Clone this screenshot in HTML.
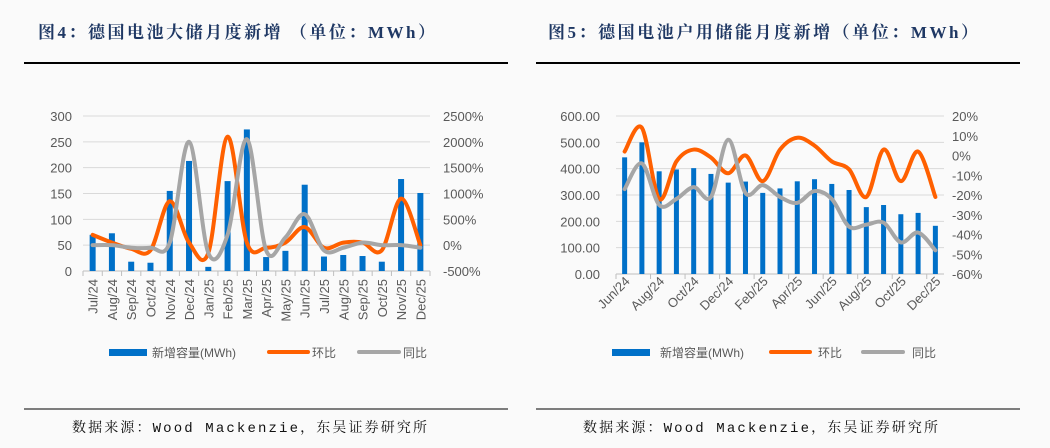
<!DOCTYPE html>
<html><head><meta charset="utf-8">
<style>
body{margin:0;background:#fafafa;width:1050px;height:448px;overflow:hidden;font-family:"Liberation Sans","Noto Sans CJK SC",sans-serif}
svg{position:absolute;left:0;top:0}
</style></head>
<body>
<svg id="s" width="1050" height="448">
<g font-family="'Liberation Serif','Noto Serif CJK SC',serif" font-weight="bold" fill="#1f3864" font-size="17">
<text x="38" y="38" textLength="397" lengthAdjust="spacing">图4：德国电池大储月度新增 （单位：MWh）</text>
<text x="548" y="38" textLength="430" lengthAdjust="spacing">图5：德国电池户用储能月度新增（单位：MWh）</text>
</g>
<line x1="24" y1="63" x2="508" y2="63" stroke="#000" stroke-width="2"/>
<line x1="536" y1="63" x2="1020" y2="63" stroke="#000" stroke-width="2"/>
<line x1="24" y1="409" x2="508" y2="409" stroke="#000" stroke-width="1"/>
<line x1="536" y1="409" x2="1020" y2="409" stroke="#000" stroke-width="1"/>
<g font-family="'Liberation Mono','Noto Serif CJK SC',serif" font-size="14" fill="#111">
<text x="72" y="432" textLength="355" lengthAdjust="spacing">数据来源：Wood Mackenzie，东吴证券研究所</text>
<text x="583" y="432" textLength="355" lengthAdjust="spacing">数据来源：Wood Mackenzie，东吴证券研究所</text>
</g>
<g font-size="12" fill="#595959">
<rect x="109" y="349" width="38" height="7" fill="#0070c8"/>
<text x="152" y="357">新增容量(MWh)</text>
<line x1="269" y1="352" x2="308" y2="352" stroke="#ff6000" stroke-width="4" stroke-linecap="round"/>
<text x="312" y="357">环比</text>
<line x1="359" y1="352" x2="399" y2="352" stroke="#a6a6a6" stroke-width="4" stroke-linecap="round"/>
<text x="403" y="357">同比</text>
</g>
<g font-size="12" fill="#595959">
<rect x="612" y="349" width="38" height="7" fill="#0070c8"/>
<text x="660" y="357">新增容量(MWh)</text>
<line x1="771" y1="352" x2="810" y2="352" stroke="#ff6000" stroke-width="4" stroke-linecap="round"/>
<text x="818" y="357">环比</text>
<line x1="863" y1="352" x2="903" y2="352" stroke="#a6a6a6" stroke-width="4" stroke-linecap="round"/>
<text x="912" y="357">同比</text>
</g>
</svg>
<script>
// Chart 4 data
const c4Cats=["Jul/24","Aug/24","Sep/24","Oct/24","Nov/24","Dec/24","Jan/25","Feb/25","Mar/25","Apr/25","May/25","Jun/25","Jul/25","Aug/25","Sep/25","Oct/25","Nov/25","Dec/25"];
const c4Bars=[70,73,18,16,155,213,8,174,274,27,39,167,28,31,29,18,178,151];
const c4Mom=[200,50,-70,-100,850,50,-150,2100,50,-50,50,350,-50,50,50,-100,900,0];
const c4Yoy=[0,0,-50,-50,50,2000,-150,200,2050,-100,150,600,-100,-50,50,0,0,-50];
const c4LeftTicks=[0,50,100,150,200,250,300];
const c4RightTicks=["-500%","0%","500%","1000%","1500%","2000%","2500%"];
const c4RightVals=[-500,0,500,1000,1500,2000,2500];
// Chart 5 data
const c5Cats=["Jun/24","Jul/24","Aug/24","Sep/24","Oct/24","Nov/24","Dec/24","Jan/25","Feb/25","Mar/25","Apr/25","May/25","Jun/25","Jul/25","Aug/25","Sep/25","Oct/25","Nov/25","Dec/25"];
const c5Bars=[443,500,390,397,402,380,347,351,308,325,352,360,342,319,254,262,227,232,183];
const c5Mom=[2,14,-22,-3,3,-1,-9,0,-13,3,9,5,-3,-7,-21,3,-13,2,-21];
const c5Yoy=[-17,-4,-25,-22,-16,-21,8,-19,-15,-21,-24,-18,-22,-36,-35,-34,-44,-39,-48];
const c5LeftTicks=["0.00","100.00","200.00","300.00","400.00","500.00","600.00"];
const c5LeftVals=[0,100,200,300,400,500,600];
const c5RightTicks=["-60%","-50%","-40%","-30%","-20%","-10%","0%","10%","20%"];
const c5RightVals=[-60,-50,-40,-30,-20,-10,0,10,20];

const NS="http://www.w3.org/2000/svg";
const svg=document.getElementById('s');
function mk(tag,attrs,parent){const e=document.createElementNS(NS,tag);for(const k in attrs)e.setAttribute(k,attrs[k]);(parent||svg).appendChild(e);return e;}
function smooth(pts){let d="M"+pts[0][0]+","+pts[0][1];for(let i=0;i<pts.length-1;i++){const p0=pts[i-1]||pts[i],p1=pts[i],p2=pts[i+1],p3=pts[i+2]||p2;const t=6;d+=" C"+(p1[0]+(p2[0]-p0[0])/t)+","+(p1[1]+(p2[1]-p0[1])/t)+" "+(p2[0]-(p3[0]-p1[0])/t)+","+(p2[1]-(p3[1]-p1[1])/t)+" "+p2[0]+","+p2[1];}return d;}

function chart(o){
  const g=mk('g',{});
  
  
  const yL=v=>o.bottom-(v-o.lmin)/(o.lmax-o.lmin)*(o.bottom-o.top);
  const yR=v=>o.bottom-(v-o.rmin)/(o.rmax-o.rmin)*(o.bottom-o.top);
  const n=o.cats.length,bw=(o.right-o.left)/n;
  const xC=i=>o.left+bw*(i+0.5);
  o.lvals.forEach((v,i)=>{
    if(i>0){const l=mk('line',{x1:o.left,x2:o.right,y1:yL(v),y2:yL(v),stroke:'#d9d9d9','stroke-width':1},g);
    
    }
    const t=mk('text',{x:o.left-o.lpad,y:yL(v)+5,'text-anchor':'end','font-size':13,fill:'#595959'},g);t.textContent=o.llabels[i];
    
    
  });
  o.rvals.forEach((v,i)=>{
    const t=mk('text',{x:o.right+o.rpad,y:yR(v)+5,'text-anchor':'start','font-size':13,fill:'#595959'},g);t.textContent=o.rlabels[i];
    
    
  });
  const ax=mk('line',{x1:o.left,x2:o.right,y1:o.bottom,y2:o.bottom,stroke:'#bfbfbf'},g);
  
  
  for(let i=0;i<=n;i+=o.tickEvery){const tk=mk('line',{x1:o.left+bw*i,x2:o.left+bw*i,y1:o.bottom,y2:o.bottom+5,stroke:'#bfbfbf'},g);
    
    }
  o.bars.forEach((v,i)=>{
    const r=mk('rect',{x:xC(i)-o.barW/2,y:yL(v),width:o.barW,height:o.bottom-yL(v),fill:'#0070c8'},g);
    
    
  });
  [[o.mom,'#ff6000','mom-line'],[o.yoy,'#a6a6a6','yoy-line']].forEach(([arr,c,nm])=>{
    const p=mk('path',{d:smooth(arr.map((v,i)=>[xC(i),yR(v)])),fill:'none',stroke:c,'stroke-width':4,'stroke-linecap':'round','stroke-linejoin':'round'},g);
    
    
  });
  o.cats.forEach((c,i)=>{
    if(i%o.labelEvery)return;
    const x=o.rot===-90?xC(i)+5:xC(i)+6, y=o.bottom+8;
    const t=mk('text',{x:x,y:y,'text-anchor':'end','font-size':13,fill:'#595959',transform:`rotate(${o.rot} ${x} ${y})`},g);t.textContent=c;
    
    
  });
}
chart({name:'chart4-plot',cats:c4Cats,bars:c4Bars,mom:c4Mom,yoy:c4Yoy,left:83,right:430,top:116,bottom:271,lmin:0,lmax:300,rmin:-500,rmax:2500,lvals:c4LeftTicks,llabels:c4LeftTicks.map(String),rvals:c4RightVals,rlabels:c4RightTicks,lpad:11,rpad:13,barW:6,rot:-90,labelEvery:1,tickEvery:1});
chart({name:'chart5-plot',cats:c5Cats,bars:c5Bars,mom:c5Mom,yoy:c5Yoy,left:616,right:944,top:116,bottom:274,lmin:0,lmax:600,rmin:-60,rmax:20,lvals:c5LeftVals,llabels:c5LeftTicks,rvals:c5RightVals,rlabels:c5RightTicks,lpad:16,rpad:8,barW:5,rot:-45,labelEvery:2,tickEvery:2});
</script>
</body></html>
